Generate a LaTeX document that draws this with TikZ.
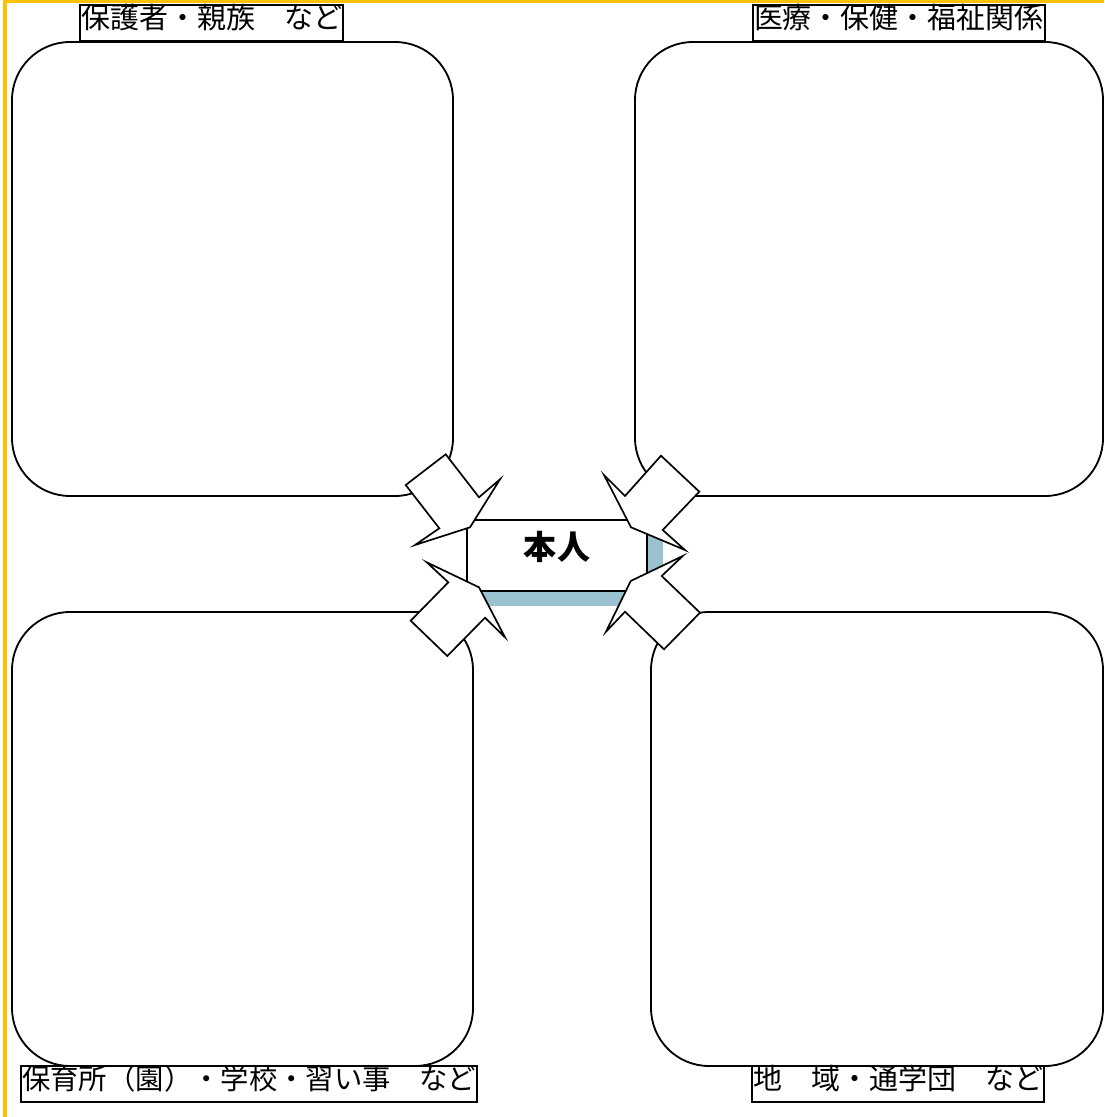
\documentclass[tikz,border=0pt]{standalone}
\usepackage{fontspec}
\newfontfamily\cjk{Noto Sans CJK JP}
\usetikzlibrary{shadows}
\definecolor{C0}{RGB}{255,192,  0}
\definecolor{C1}{RGB}{155,194,207}

\tikzset{
    panel/.style={draw, line width=1.3pt, rounded corners=1.45cm},
    tag/.style={draw, line width=1.6pt, fill=white, inner xsep=0.03cm, inner ysep=0pt,
        minimum height=0.9cm, text height=0.88em, text depth=0.12em,
        font=\cjk\fontsize{20.6}{20.6}\selectfont},
    blockarrow/.style={draw, fill=white, line width=1.2pt, line join=miter},
}

\begin{document}
\begin{tikzpicture}[x=0.025cm, y=-0.025cm]

    \useasboundingbox (0,0) rectangle (1104,1117);

    %% --- Frame (only top and left edges show) ---
    \draw[C0, line width=2.5pt] (4.8,1117) -- (4.8,1.2) -- (1104,1.2);

    %% --- Four rounded panels ---
    \draw[panel] (12,42)   rectangle (453,496);   % family
    \draw[panel] (635,42)  rectangle (1103,496);  % medical
    \draw[panel] (12,612)  rectangle (473,1066);  % school
    \draw[panel] (651,612) rectangle (1103,1066); % community

    %% --- Panel titles ---
    \node[tag, anchor=south west] (tagFamily)    at (79,42)    {保護者・親族　など};
    \node[tag, anchor=south east] (tagMedical)   at (1046,42)  {医療・保健・福祉関係};
    \node[tag, anchor=north west, font=\cjk\fontsize{20.15}{20.15}\selectfont]
        (tagSchool) at (20,1065) {保育所（園）・学校・習い事　など};
    \node[tag, anchor=north west] (tagCommunity) at (751,1065) {地　域・通学団　など};

    %% --- Centre box with shadow ---
    \node[draw, fill=white, line width=1.2pt, minimum width=4.5cm, minimum height=1.775cm,
          text height=0.88em, text depth=0.3em,
          font=\cjk\bfseries\fontsize{23.5}{23.5}\selectfont,
          drop shadow={fill=C1, opacity=1, shadow xshift=0.4cm, shadow yshift=-0.375cm}]
          (honnin) at (557,555.5) {本人};

    %% --- Four block arrows pointing in ---
    \draw[blockarrow] (445.7,454.3) -- (405.7,485) -- (439.3,528.3) -- (415,545)
        -- (470,527.3) -- (500,479.3) -- (479,497.3) -- cycle;   % top left
    \draw[blockarrow] (661,455.7) -- (699.3,491.7) -- (662.7,530) -- (685,550)
        -- (631,527.3) -- (604,475) -- (625,496) -- cycle;       % top right
    \draw[blockarrow] (426.7,562.3) -- (448.3,582.3) -- (410.7,620.7) -- (447.3,656)
        -- (485,617.7) -- (505,637.3) -- (479,587.3) -- cycle;   % bottom left
    \draw[blockarrow] (682.7,556) -- (661.7,576) -- (700,612.7) -- (664,649.3)
        -- (625,611.7) -- (606,631.7) -- (630.7,581) -- cycle;   % bottom right

\end{tikzpicture}
\end{document}
